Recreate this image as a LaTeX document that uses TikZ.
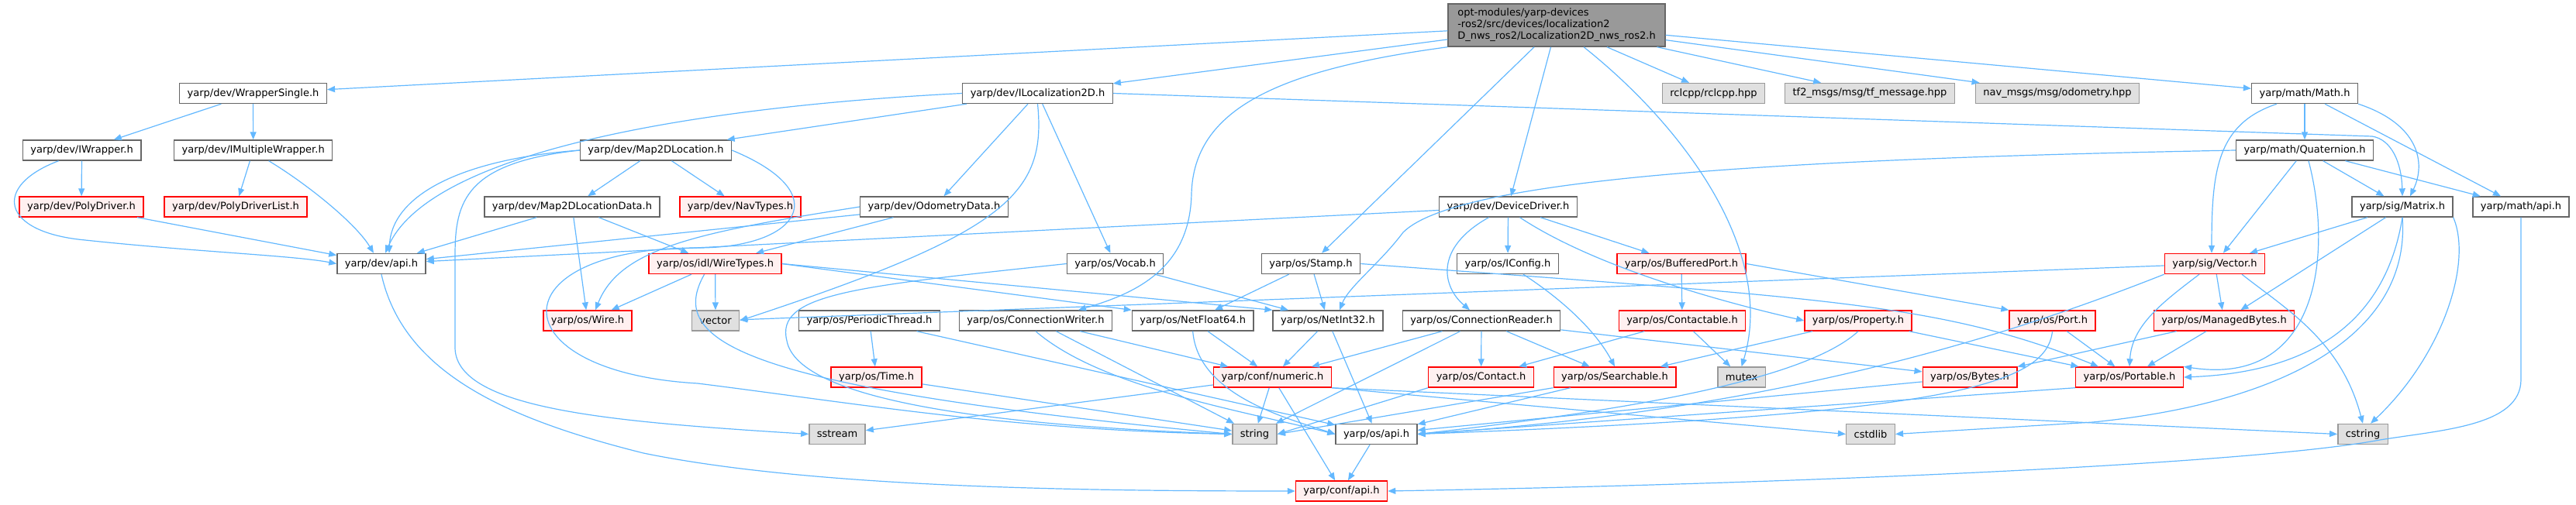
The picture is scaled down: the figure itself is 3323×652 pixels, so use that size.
\documentclass[tikz,border=0pt]{standalone}
\usepackage{fontspec}
\setmainfont{DejaVu Sans}
\usetikzlibrary{arrows.meta}
\definecolor{depblue}{HTML}{63B8FF}
\definecolor{filegray}{HTML}{666666}
\definecolor{extgray}{HTML}{999999}
\definecolor{extfill}{HTML}{E0E0E0}
\definecolor{truncfill}{HTML}{FFF0F0}
\definecolor{rootfill}{HTML}{999999}
\tikzset{
  file/.style={draw=filegray,fill=white,line width=1.4pt,inner xsep=10pt,inner ysep=0pt,
    minimum height=26pt,font=\fontsize{13}{15}\selectfont},
  trunc/.style={file,draw=red,fill=truncfill},
  ext/.style={file,draw=extgray,fill=extfill},
  root/.style={file,fill=rootfill,align=left,minimum height=55pt,minimum width=280pt},
  dep/.style={draw=depblue,line width=1.2pt,-{Triangle[length=10pt,width=8pt]}}
}

\begin{document}
\begin{tikzpicture}[x=1pt,y=-1pt]
\useasboundingbox (0,0) rectangle (3323,652);
% top file
\node[root] (main) at (2008,32.5) {opt-modules/yarp-devices\\-ros2/src/devices/localization2\\D\_nws\_ros2/Localization2D\_nws\_ros2.h};
% rank 2
\node[file] (ws) at (326.5,120.5) {yarp/dev/WrapperSingle.h};
\node[file] (iloc) at (1338.5,120.5) {yarp/dev/ILocalization2D.h};
\node[ext] (rclcpp) at (2210.5,120.5) {rclcpp/rclcpp.hpp};
\node[ext] (tftwo) at (2412,120.5) {tf2\_msgs/msg/tf\_message.hpp};
\node[ext] (navmsg) at (2654,120.5) {nav\_msgs/msg/odometry.hpp};
\node[file] (mathh) at (2973,120.5) {yarp/math/Math.h};
% rank 3
\node[file] (iwrap) at (105.6,194) {yarp/dev/IWrapper.h};
\node[file] (imw) at (326.7,194) {yarp/dev/IMultipleWrapper.h};
\node[file] (mtwodl) at (846,194) {yarp/dev/Map2DLocation.h};
\node[file] (quat) at (2973,194) {yarp/math/Quaternion.h};
% rank 4
\node[trunc] (polyd) at (105,267) {yarp/dev/PolyDriver.h};
\node[trunc] (polydl) at (304,267) {yarp/dev/PolyDriverList.h};
\node[file] (mtwodld) at (738,267) {yarp/dev/Map2DLocationData.h};
\node[trunc] (navt) at (955,267) {yarp/dev/NavTypes.h};
\node[file] (odom) at (1205,267) {yarp/dev/OdometryData.h};
\node[file] (devdrv) at (1945.5,267) {yarp/dev/DeviceDriver.h};
\node[file] (matrix) at (3099,267) {yarp/sig/Matrix.h};
\node[file] (mathapi) at (3252,267) {yarp/math/api.h};
% rank 5
\node[file] (devapi) at (492,340.5) {yarp/dev/api.h};
\node[trunc] (wiret) at (922.6,340.5) {yarp/os/idl/WireTypes.h};
\node[file] (vocab) at (1438.6,340.5) {yarp/os/Vocab.h};
\node[file] (stamp) at (1691,340.5) {yarp/os/Stamp.h};
\node[file] (iconfig) at (1945,340.5) {yarp/os/IConfig.h};
\node[trunc] (bport) at (2169,340.5) {yarp/os/BufferedPort.h};
\node[trunc] (sigvec) at (2857,340.5) {yarp/sig/Vector.h};
% rank 6
\node[trunc] (wire) at (758,414) {yarp/os/Wire.h};
\node[ext] (stdvec) at (923,414) {vector};
\node[file] (pthread) at (1121.5,414) {yarp/os/PeriodicThread.h};
\node[file] (cwriter) at (1336,414) {yarp/os/ConnectionWriter.h};
\node[file] (netf) at (1538.7,414) {yarp/os/NetFloat64.h};
\node[file] (neti) at (1713,414) {yarp/os/NetInt32.h};
\node[file] (creader) at (1911,414) {yarp/os/ConnectionReader.h};
\node[trunc] (cable) at (2170,414) {yarp/os/Contactable.h};
\node[trunc] (prop) at (2397,414) {yarp/os/Property.h};
\node[trunc] (port) at (2647.5,414) {yarp/os/Port.h};
\node[trunc] (mbytes) at (2869,414) {yarp/os/ManagedBytes.h};
% rank 7
\node[trunc] (time) at (1130.6,487) {yarp/os/Time.h};
\node[trunc] (numeric) at (1641.5,487) {yarp/conf/numeric.h};
\node[trunc] (contact) at (1910.6,487) {yarp/os/Contact.h};
\node[trunc] (search) at (2083,487) {yarp/os/Searchable.h};
\node[ext] (mutex) at (2246.6,487) {mutex};
\node[trunc] (bytes) at (2541,487) {yarp/os/Bytes.h};
\node[trunc] (portable) at (2747,487) {yarp/os/Portable.h};
% rank 8
\node[ext] (sstream) at (1080,560.5) {sstream};
\node[ext] (string) at (1618.5,560.5) {string};
\node[file] (osapi) at (1775.5,560.5) {yarp/os/api.h};
\node[ext] (cstdlib) at (2413,560.5) {cstdlib};
\node[ext] (cstring) at (3048,560.5) {cstring};
% rank 9
\node[trunc] (confapi) at (1730.5,634) {yarp/conf/api.h};

% straight includes
\foreach \a/\b in {main/ws,main/iloc,main/rclcpp,main/tftwo,main/navmsg,main/mathh,main/devdrv,main/stamp,
  ws/iwrap,ws/imw,iwrap/polyd,imw/polydl,polyd/devapi,
  iloc/mtwodl,iloc/odom,iloc/vocab,mtwodl/mtwodld,mtwodl/navt,
  mtwodld/devapi,mtwodld/wire,mtwodld/wiret,odom/devapi,odom/wiret,
  devdrv/devapi,devdrv/iconfig,devdrv/bport,
  wiret/wire,wiret/stdvec,vocab/neti,stamp/neti,stamp/netf,
  bport/cable,sigvec/stdvec,sigvec/mbytes,
  pthread/time,pthread/osapi,cwriter/numeric,cwriter/string,netf/numeric,neti/numeric,neti/osapi,
  creader/numeric,creader/string,creader/contact,creader/search,creader/bytes,
  cable/contact,cable/mutex,prop/search,prop/portable,port/portable,mbytes/bytes,mbytes/portable,
  time/string,numeric/string,numeric/confapi,numeric/sstream,bytes/osapi,search/osapi,osapi/confapi,
  mathh/quat,mathh/mathapi,quat/sigvec,quat/matrix,quat/mathapi,matrix/sigvec,matrix/mbytes}
  \draw[dep] (\a) -- (\b);

% routed includes
\draw[dep] (main.south west) .. controls (1650,90) and (1540,140) .. (1537,250)
  .. controls (1535,350) and (1460,380) .. ([xshift=55pt]cwriter.north);
\draw[dep] ([xshift=35pt]main.south) .. controls (2180,170) and (2290,330) .. (mutex.north);
\draw[dep] ([xshift=-30pt]iwrap.south) .. controls (-10,240) and (0,300) .. (110,310)
  .. controls (250,325) and (380,330) .. (devapi.west);
\draw[dep] ([xshift=20pt]imw.south) .. controls (400,240) and (460,290) .. ([xshift=-10pt]devapi.north);
\draw[dep] (iloc.west) .. controls (950,135) and (560,185) .. ([xshift=5pt]devapi.north);
\draw[dep] (iloc.south) .. controls (1350,250) and (1300,300) .. (stdvec.east);
\draw[dep] (iloc.east) -- (3060,176) .. controls (3085,180) and (3098,210) .. (matrix.north);
\draw[dep] (mtwodl.west) .. controls (600,205) and (505,250) .. ([xshift=10pt]devapi.north);
\draw[dep] (mtwodl.west) .. controls (600,210) and (587,260) .. (587,330) -- (587,450)
  .. controls (590,530) and (800,545) .. (sstream.west);
\draw[dep] (mtwodl.east) .. controls (1080,250) and (1030,320) .. (900,320)
  .. controls (640,320) and (640,480) .. (900,495) .. controls (1100,520) and (1300,555) .. (string.west);
\draw[dep] (odom.west) .. controls (900,300) and (800,320) .. ([xshift=10pt]wire.north);
\draw[dep] (devapi.south) .. controls (520,480) and (650,540) .. (830,585)
  .. controls (1050,630) and (1400,634) .. (confapi.west);
\draw[dep] ([xshift=-25pt]devdrv.south) .. controls (1850,320) and (1860,370) .. ([xshift=-15pt]creader.north);
\draw[dep] ([xshift=15pt]devdrv.south) .. controls (2050,340) and (2200,385) .. (prop.west);
\draw[dep] (wiret.east) -- (netf.north west);
\draw[dep] (wiret.east) -- (neti.north west);
\draw[dep] ([xshift=-14pt]wiret.south) .. controls (860,440) and (950,500) .. (string.west);
\draw[dep] (vocab.west) .. controls (1100,370) and (1000,380) .. (1015,440)
  .. controls (1030,520) and (1300,550) .. (string.west);
\draw[dep] (stamp.east) .. controls (2350,385) and (2500,390) .. ([xshift=-40pt]portable.north);
\draw[dep] ([xshift=20pt]iconfig.south) .. controls (2020,390) and (2060,430) .. (search.north);
\draw[dep] (bport.east) -- (port.north west);
\draw[dep] ([xshift=-20pt]sigvec.south) .. controls (2790,390) and (2750,420) .. (portable.north);
\draw[dep] (sigvec.south west) .. controls (2600,430) and (2300,530) .. (osapi.east);
\draw[dep] ([xshift=35pt]sigvec.south) .. controls (2950,400) and (3020,440) .. (cstring.north);
\draw[dep] (cwriter.south) .. controls (1420,500) and (1600,530) .. (osapi.west);
\draw[dep] (netf.south) .. controls (1545,510) and (1660,540) .. (osapi.west);
\draw[dep] (prop.south) .. controls (2330,490) and (2100,530) .. (osapi.east);
\draw[dep] (port.south) .. controls (2640,500) and (2500,535) .. (osapi.east);
\draw[dep] (portable.south west) -- (osapi.east);
\draw[dep] (search.south west) -- (string.east);
\draw[dep] (contact.south west) -- (string.east);
\draw[dep] (numeric.south east) -- (cstdlib.west);
\draw[dep] (numeric.south east) -- (cstring.west);
\draw[dep] ([xshift=-36pt]mathh.south) .. controls (2860,160) and (2853,220) .. ([xshift=-4pt]sigvec.north);
\draw[dep] (mathh.south east) .. controls (3120,160) and (3130,210) .. ([xshift=10pt]matrix.north);
\draw[dep] ([xshift=5pt]quat.south) .. controls (3010,330) and (2990,500) .. (portable.north east);
\draw[dep] (quat.west) .. controls (2300,205) and (1880,230) .. (1810,300)
  .. controls (1780,340) and (1740,370) .. ([xshift=15pt]neti.north);
\draw[dep] (matrix.south) .. controls (3080,400) and (3000,480) .. (portable.east);
\draw[dep] (matrix.south) .. controls (3110,430) and (2950,520) .. (2700,545) -- (cstdlib.east);
\draw[dep] (matrix.south east) .. controls (3190,340) and (3150,460) .. ([xshift=10pt]cstring.north);
\draw[dep] (mathapi.south) -- (3252,490) .. controls (3252,550) and (3150,555) .. (3070,568)
  .. controls (2900,600) and (2300,625) .. (confapi.east);
\end{tikzpicture}
\end{document}
